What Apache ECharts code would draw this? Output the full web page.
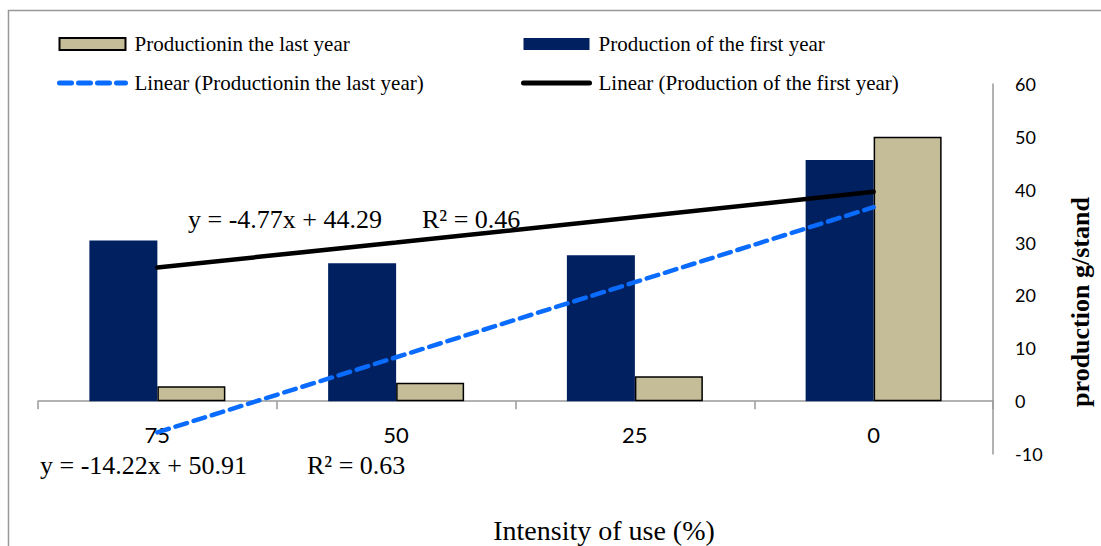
<!DOCTYPE html>
<html>
<head>
<meta charset="utf-8">
<script src="https://cdn.jsdelivr.net/npm/echarts@6/dist/echarts.min.js"></script>
<style>
  html, body { margin: 0; padding: 0; background: #fff; }
  #chart { width: 1101px; height: 546px; }
</style>
</head>
<body>
<div id="chart"></div>
<script>
// data
var categories = ['75', '50', '25', '0'];
var firstYear = [30.4, 26.1, 27.6, 45.6];
var lastYear = [2.8, 3.5, 4.7, 50];
var trendFirst = [25.3, 30.0, 34.8, 39.6];
var trendLast = [-5.9, 8.3, 22.5, 36.7];
var yTicks = { min: -10, max: 60, interval: 10 };

var serif = '"Liberation Serif", "Times New Roman", serif';
var sans = 'Lato, "Open Sans", sans-serif';

var gridTop = 84, gridBottom = 92, chartH = 546;
// put the category axis on the value 0
var plotH = chartH - gridTop - gridBottom;
var zeroOffset = -plotH * (0 - yTicks.min) / (yTicks.max - yTicks.min);

var chart = echarts.init(document.getElementById('chart'), null, { renderer: 'svg' });

var legendText = { fontFamily: serif, fontSize: 21, lineHeight: 22, color: '#000', padding: [0, 0, 0, 4] };

var option = {
  animation: false,
  backgroundColor: '#fff',
  grid: { left: 38, right: 108, top: gridTop, bottom: gridBottom, containLabel: false },
  legend: [
    {
      orient: 'vertical',
      left: 57,
      top: 33,
      padding: 0,
      itemWidth: 66,
      itemHeight: 12,
      itemGap: 17,
      selectedMode: false,
      textStyle: legendText,
      data: [
        { name: 'Productionin the last year', icon: 'rect' },
        { name: 'Linear (Productionin the last year)', itemStyle: { opacity: 0 }, lineStyle: { width: 5 } }
      ]
    },
    {
      orient: 'vertical',
      left: 521,
      top: 33,
      padding: 0,
      itemWidth: 66,
      itemHeight: 12,
      itemGap: 17,
      selectedMode: false,
      textStyle: legendText,
      data: [
        { name: 'Production of the first year', icon: 'rect' },
        { name: 'Linear (Production of the first year)', itemStyle: { opacity: 0 }, lineStyle: { width: 5 } }
      ]
    }
  ],
  xAxis: {
    type: 'category',
    data: categories,
    offset: zeroOffset,
    axisLine: { onZero: false, lineStyle: { color: '#999', width: 1.5 } },
    axisTick: { show: true, length: 8, inside: false, lineStyle: { color: '#999', width: 1.5 } },
    axisLabel: { fontFamily: sans, fontSize: 22, color: '#000', margin: 22 },
    splitLine: { show: false }
  },
  yAxis: {
    type: 'value',
    position: 'right',
    min: yTicks.min,
    max: yTicks.max,
    interval: yTicks.interval,
    axisLine: { show: true, lineStyle: { color: '#999', width: 1.5 } },
    axisTick: { show: false },
    axisLabel: { fontFamily: sans, fontSize: 18, color: '#000', margin: 22 },
    splitLine: { show: false }
  },
  series: [
    {
      name: 'Production of the first year',
      type: 'bar',
      data: firstYear,
      barWidth: 68,
      barGap: '0%',
      itemStyle: { color: '#002060' }
    },
    {
      name: 'Productionin the last year',
      type: 'bar',
      data: lastYear,
      barWidth: 68,
      barGap: '0%',
      itemStyle: { color: '#C4BD97', borderColor: '#000', borderWidth: 1.5 }
    },
    {
      name: 'Linear (Productionin the last year)',
      type: 'line',
      data: trendLast,
      symbol: 'none',
      z: 5,
      lineStyle: { color: '#0A6CFF', width: 4.5, type: [12, 7], cap: 'round' },
      itemStyle: { color: '#0A6CFF' }
    },
    {
      name: 'Linear (Production of the first year)',
      type: 'line',
      data: trendFirst,
      symbol: 'none',
      z: 5,
      lineStyle: { color: '#000', width: 4.5, cap: 'round' },
      itemStyle: { color: '#000' }
    }
  ],
  graphic: [
    {
      type: 'rect',
      silent: true,
      shape: { x: 8.5, y: 10.5, width: 1200, height: 600 },
      style: { fill: 'none', stroke: '#999', lineWidth: 1.5 }
    },
    {
      type: 'text', x: 188, y: 219,
      style: { text: 'y = -4.77x + 44.29', font: '26px ' + serif, fill: '#000', verticalAlign: 'middle' }
    },
    {
      type: 'text', x: 422, y: 219,
      style: { text: 'R² = 0.46', font: '26px ' + serif, fill: '#000', verticalAlign: 'middle' }
    },
    {
      type: 'text', x: 40, y: 465,
      style: { text: 'y = -14.22x + 50.91', font: '26px ' + serif, fill: '#000', verticalAlign: 'middle' }
    },
    {
      type: 'text', x: 307, y: 465,
      style: { text: 'R² = 0.63', font: '26px ' + serif, fill: '#000', verticalAlign: 'middle' }
    },
    {
      type: 'text', x: 1080, y: 302, rotation: Math.PI / 2,
      style: { text: 'production g/stand', font: 'bold 26px ' + serif, fill: '#000', align: 'center', verticalAlign: 'middle' }
    },
    {
      type: 'text', x: 604, y: 530,
      style: { text: 'Intensity of use (%)', font: '28px ' + serif, fill: '#000', align: 'center', verticalAlign: 'middle' }
    }
  ]
};

chart.setOption(option);
window.addEventListener('resize', function () {
  chart.resize();
});
</script>
</body>
</html>
